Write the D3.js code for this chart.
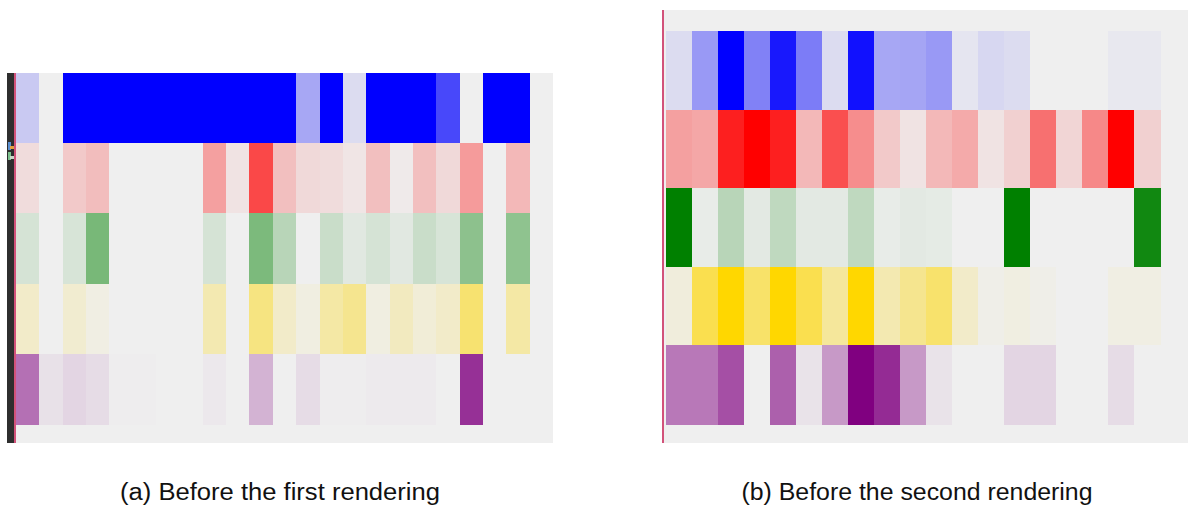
<!DOCTYPE html>
<html>
<head>
<meta charset="utf-8">
<script src="https://cdn.jsdelivr.net/npm/d3@7"></script>
<style>
  body { margin: 0; background: #ffffff; }
  svg { display: block; }
</style>
</head>
<body>
<div id="general"></div>
<script>
const w = 1188, h = 509;

// rows of the heatmap, top to bottom
const rows = ["blue", "red", "green", "yellow", "purple"];
const rowColors = ["#0000ff", "#ff0000", "#008000", "#ffd700", "#800080"];
const colbg = "#efefef";

// (a) before the first rendering, 22 columns
const aBlue   = [0.16, 0, 1, 1, 1, 1, 1, 1, 1, 1, 1, 1, 0.30, 1, 0.08, 1, 1, 1, 0.70, 0, 1, 1];
const aRed    = [0.08, 0, 0.16, 0.21, 0, 0, 0, 0, 0.33, 0.05, 0.70, 0.20, 0.09, 0.08, 0.04, 0.20, 0.02, 0.20, 0.09, 0.35, 0, 0.23];
const aGreen  = [0.11, 0, 0.10, 0.50, 0, 0, 0, 0, 0.11, 0, 0.48, 0.23, 0, 0.16, 0.06, 0.11, 0.06, 0.16, 0.10, 0.41, 0, 0.40];
const aYellow = [0.16, 0, 0.13, 0.05, 0, 0, 0, 0, 0.26, 0, 0.46, 0.16, 0.06, 0.31, 0.40, 0.06, 0.20, 0.10, 0.16, 0.53, 0, 0.31];
const aPurple = [0.53, 0.06, 0.11, 0.08, 0.01, 0.01, 0, 0, 0.03, 0, 0.25, 0, 0.08, 0.01, 0.01, 0.02, 0.02, 0.02, 0, 0.80, 0, 0];

// (b) before the second rendering, 19 columns
const bBlue   = [0.08, 0.36, 1, 0.46, 0.90, 0.48, 0.08, 0.93, 0.30, 0.31, 0.36, 0.04, 0.10, 0.08, 0, 0, 0, 0.03, 0.03];
const bRed    = [0.33, 0.30, 0.87, 1, 0.87, 0.23, 0.67, 0.41, 0.16, 0.05, 0.23, 0.29, 0.05, 0.13, 0.53, 0.11, 0.43, 1, 0.13];
const bGreen  = [1, 0.03, 0.23, 0.05, 0.20, 0.05, 0.05, 0.20, 0.03, 0.05, 0.04, 0, 0, 1, 0, 0, 0, 0, 0.93];
const bYellow = [0.08, 0.67, 1, 0.56, 1, 0.67, 0.35, 1, 0.26, 0.40, 0.55, 0.16, 0.03, 0.06, 0.03, 0, 0, 0.05, 0.05];
const bPurple = [0.50, 0.50, 0.67, 0, 0.60, 0.05, 0.36, 1, 0.82, 0.36, 0.05, 0, 0, 0.11, 0.11, 0, 0, 0.08, 0];

const captions = ["(a) Before the first rendering", "(b) Before the second rendering"];

const svg = d3.select("#general").append("svg")
  .attr("width", w).attr("height", h)
  .attr("viewBox", `0 0 ${w} ${h}`);

function toCells(series) {
  const cells = [];
  series.forEach((vals, r) => {
    vals.forEach((v, c) => cells.push({ row: rows[r], col: c, v: v, color: rowColors[r] }));
  });
  return cells;
}

function heatmap(cells, opts) {
  const g = svg.append("g");

  // panel background
  g.append("rect")
    .attr("x", opts.bg[0]).attr("y", opts.bg[1])
    .attr("width", opts.bg[2]).attr("height", opts.bg[3])
    .attr("fill", colbg);

  const x = d3.scaleBand().domain(d3.range(opts.nCols)).range(opts.xRange);
  const y = d3.scaleBand().domain(rows).range(opts.yRange);

  g.selectAll("rect.cell")
    .data(cells)
    .join("rect")
      .attr("class", "cell")
      .attr("shape-rendering", "crispEdges")
      .attr("x", d => x(d.col))
      .attr("y", d => y(d.row))
      .attr("width", x.bandwidth() + 0.6)
      .attr("height", y.bandwidth() + 0.6)
      .attr("fill", d => d3.interpolateRgb(colbg, d.color)(d.v));

  // pinkish left rule
  g.append("line")
    .attr("x1", opts.rule).attr("x2", opts.rule)
    .attr("y1", opts.bg[1]).attr("y2", opts.bg[1] + opts.bg[3])
    .attr("stroke", "#d2527a").attr("stroke-width", 2);

  return g;
}

heatmap(toCells([aBlue, aRed, aGreen, aYellow, aPurple]), {
  nCols: 23, xRange: [16, 553], yRange: [73, 424],
  bg: [16, 73, 537, 370], rule: 15
});

heatmap(toCells([bBlue, bRed, bGreen, bYellow, bPurple]), {
  nCols: 19, xRange: [666, 1160], yRange: [31, 424],
  bg: [664, 10, 524, 433], rule: 663
});

// editor gutter strip next to panel (a)
svg.append("rect").attr("x", 7).attr("y", 73).attr("width", 7).attr("height", 370).attr("fill", "#2e2e2e");
svg.append("rect").attr("x", 8).attr("y", 142).attr("width", 3).attr("height", 8).attr("fill", "#5b8fd0");
svg.append("rect").attr("x", 10).attr("y", 146).attr("width", 4).attr("height", 3).attr("fill", "#e0a040");
svg.append("rect").attr("x", 8).attr("y", 152).attr("width", 3).attr("height", 8).attr("fill", "#7cc08c");
svg.append("rect").attr("x", 10).attr("y", 156).attr("width", 4).attr("height", 3).attr("fill", "#c8d8c8");

// captions
const capX = [280, 917], capW = [320, 351];
svg.selectAll("text.caption")
  .data(captions)
  .join("text")
    .attr("class", "caption")
    .attr("x", (d, i) => capX[i])
    .attr("y", 500)
    .attr("text-anchor", "middle")
    .attr("font-family", "Liberation Sans, Arial, sans-serif")
    .attr("font-size", 23)
    .attr("fill", "#111")
    .attr("textLength", (d, i) => capW[i])
    .attr("lengthAdjust", "spacingAndGlyphs")
    .text(d => d);
</script>
</body>
</html>
